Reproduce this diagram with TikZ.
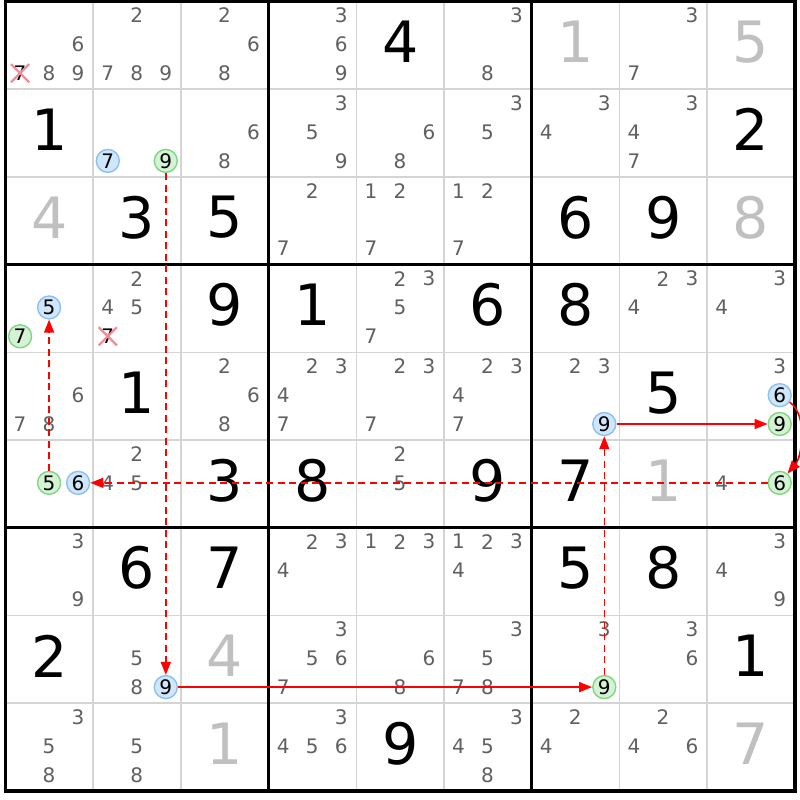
\documentclass[tikz,border=0pt]{standalone}
\usepackage{fontspec}
\setmainfont{DejaVu Sans}
\usetikzlibrary{arrows.meta,shapes.misc}
\definecolor{candgray}{RGB}{96,96,96}
\definecolor{solvedgray}{RGB}{192,192,192}
\definecolor{thingrid}{RGB}{212,212,212}
\definecolor{bluefill}{RGB}{208,230,250}
\definecolor{blueline}{RGB}{140,192,240}
\definecolor{greenfill}{RGB}{212,242,212}
\definecolor{greenline}{RGB}{128,214,128}
\definecolor{xpink}{RGB}{240,140,150}
\definecolor{linkred}{RGB}{255,0,0}
\newcommand\sdkCand[4][candtxt]{%
  \pgfmathsetmacro\sdkcx{5.5+87.7*(#3-1)+14.6+29*mod(#4-1,3)}%
  \pgfmathsetmacro\sdkcy{1.5+87.7*(#2-1)+14+28.85*div(#4-1,3)}%
  \node[#1] (n#2#3#4) at (\sdkcx,\sdkcy) {#4};}
\newcommand\sdkBig[4][given]{%
  \pgfmathsetmacro\sdkcx{5.5+87.7*(#3-1)+43.85}%
  \pgfmathsetmacro\sdkcy{1.5+87.7*(#2-1)+40.5}%
  \node[#1] (b#2#3) at (\sdkcx,\sdkcy) {#4};}
\tikzset{
  candfont/.style={font=\fontsize{20}{20}\selectfont},
  candtxt/.style={candfont, text=candgray, inner sep=0pt},
  bluec/.style={candfont, circle, draw=blueline, fill=bluefill, line width=1.4pt, minimum size=23pt, inner sep=0pt, text=black},
  greenc/.style={candfont, circle, draw=greenline, fill=greenfill, line width=1.4pt, minimum size=23pt, inner sep=0pt, text=black},
  crossed/.style={candfont, cross out, draw=xpink, line width=2.2pt, minimum width=16pt, minimum height=16pt, inner sep=0pt, text=black},
  given/.style={font=\fontsize{57}{57}\selectfont, text=black, inner sep=0pt},
  solved/.style={font=\fontsize{57}{57}\selectfont, text=solvedgray, inner sep=0pt},
  thingridline/.style={draw=thingrid, line width=1.6pt},
  thickgridline/.style={draw=black, line width=3.5pt},
  weaklink/.style={color=linkred, line width=1.4pt, dash pattern=on 7pt off 4.5pt, -{Triangle[length=13pt,width=10pt]}},
  stronglink/.style={color=linkred, line width=1.6pt, -{Triangle[length=13pt,width=10pt]}}
}
\begin{document}
\begin{tikzpicture}[x=1pt,y=-1pt]
\useasboundingbox (0,0) rectangle (800,800);
\fill[white] (0,0) rectangle (800,800);
% grid
\foreach \i in {1,2,4,5,7,8} {
  \draw[thingridline] (5.5+87.7*\i,1.5) -- (5.5+87.7*\i,790.8);
  \draw[thingridline] (5.5,1.5+87.7*\i) -- (794.8,1.5+87.7*\i);
}
\foreach \i in {3,6} {
  \draw[thickgridline] (5.5+87.7*\i,1.5) -- (5.5+87.7*\i,790.8);
  \draw[thickgridline] (5.5,1.5+87.7*\i) -- (794.8,1.5+87.7*\i);
}
\draw[thickgridline] (5.5,1.5) rectangle (794.8,790.8);
% row 1
\sdkCand{1}{1}{6}\sdkCand[crossed]{1}{1}{7}\sdkCand{1}{1}{8}\sdkCand{1}{1}{9}
\sdkCand{1}{2}{2}\sdkCand{1}{2}{7}\sdkCand{1}{2}{8}\sdkCand{1}{2}{9}
\sdkCand{1}{3}{2}\sdkCand{1}{3}{6}\sdkCand{1}{3}{8}
\sdkCand{1}{4}{3}\sdkCand{1}{4}{6}\sdkCand{1}{4}{9}
\sdkBig{1}{5}{4}
\sdkCand{1}{6}{3}\sdkCand{1}{6}{8}
\sdkBig[solved]{1}{7}{1}
\sdkCand{1}{8}{3}\sdkCand{1}{8}{7}
\sdkBig[solved]{1}{9}{5}
% row 2
\sdkBig{2}{1}{1}
\sdkCand[bluec]{2}{2}{7}\sdkCand[greenc]{2}{2}{9}
\sdkCand{2}{3}{6}\sdkCand{2}{3}{8}
\sdkCand{2}{4}{3}\sdkCand{2}{4}{5}\sdkCand{2}{4}{9}
\sdkCand{2}{5}{6}\sdkCand{2}{5}{8}
\sdkCand{2}{6}{3}\sdkCand{2}{6}{5}
\sdkCand{2}{7}{3}\sdkCand{2}{7}{4}
\sdkCand{2}{8}{3}\sdkCand{2}{8}{4}\sdkCand{2}{8}{7}
\sdkBig{2}{9}{2}
% row 3
\sdkBig[solved]{3}{1}{4}\sdkBig{3}{2}{3}\sdkBig{3}{3}{5}
\sdkCand{3}{4}{2}\sdkCand{3}{4}{7}
\sdkCand{3}{5}{1}\sdkCand{3}{5}{2}\sdkCand{3}{5}{7}
\sdkCand{3}{6}{1}\sdkCand{3}{6}{2}\sdkCand{3}{6}{7}
\sdkBig{3}{7}{6}\sdkBig{3}{8}{9}\sdkBig[solved]{3}{9}{8}
% row 4
\sdkCand[bluec]{4}{1}{5}\sdkCand[greenc]{4}{1}{7}
\sdkCand{4}{2}{2}\sdkCand{4}{2}{4}\sdkCand{4}{2}{5}\sdkCand[crossed]{4}{2}{7}
\sdkBig{4}{3}{9}\sdkBig{4}{4}{1}
\sdkCand{4}{5}{2}\sdkCand{4}{5}{3}\sdkCand{4}{5}{5}\sdkCand{4}{5}{7}
\sdkBig{4}{6}{6}\sdkBig{4}{7}{8}
\sdkCand{4}{8}{2}\sdkCand{4}{8}{3}\sdkCand{4}{8}{4}
\sdkCand{4}{9}{3}\sdkCand{4}{9}{4}
% row 5
\sdkCand{5}{1}{6}\sdkCand{5}{1}{7}\sdkCand{5}{1}{8}
\sdkBig{5}{2}{1}
\sdkCand{5}{3}{2}\sdkCand{5}{3}{6}\sdkCand{5}{3}{8}
\sdkCand{5}{4}{2}\sdkCand{5}{4}{3}\sdkCand{5}{4}{4}\sdkCand{5}{4}{7}
\sdkCand{5}{5}{2}\sdkCand{5}{5}{3}\sdkCand{5}{5}{7}
\sdkCand{5}{6}{2}\sdkCand{5}{6}{3}\sdkCand{5}{6}{4}\sdkCand{5}{6}{7}
\sdkCand{5}{7}{2}\sdkCand{5}{7}{3}\sdkCand[bluec]{5}{7}{9}
\sdkBig{5}{8}{5}
\sdkCand{5}{9}{3}\sdkCand[bluec]{5}{9}{6}\sdkCand[greenc]{5}{9}{9}
% row 6
\sdkCand[greenc]{6}{1}{5}\sdkCand[bluec]{6}{1}{6}
\sdkCand{6}{2}{2}\sdkCand{6}{2}{4}\sdkCand{6}{2}{5}
\sdkBig{6}{3}{3}\sdkBig{6}{4}{8}
\sdkCand{6}{5}{2}\sdkCand{6}{5}{5}
\sdkBig{6}{6}{9}\sdkBig{6}{7}{7}\sdkBig[solved]{6}{8}{1}
\sdkCand{6}{9}{4}\sdkCand[greenc]{6}{9}{6}
% row 7
\sdkCand{7}{1}{3}\sdkCand{7}{1}{9}
\sdkBig{7}{2}{6}\sdkBig{7}{3}{7}
\sdkCand{7}{4}{2}\sdkCand{7}{4}{3}\sdkCand{7}{4}{4}
\sdkCand{7}{5}{1}\sdkCand{7}{5}{2}\sdkCand{7}{5}{3}
\sdkCand{7}{6}{1}\sdkCand{7}{6}{2}\sdkCand{7}{6}{3}\sdkCand{7}{6}{4}
\sdkBig{7}{7}{5}\sdkBig{7}{8}{8}
\sdkCand{7}{9}{3}\sdkCand{7}{9}{4}\sdkCand{7}{9}{9}
% row 8
\sdkBig{8}{1}{2}
\sdkCand{8}{2}{5}\sdkCand{8}{2}{8}\sdkCand[bluec]{8}{2}{9}
\sdkBig[solved]{8}{3}{4}
\sdkCand{8}{4}{3}\sdkCand{8}{4}{5}\sdkCand{8}{4}{6}\sdkCand{8}{4}{7}
\sdkCand{8}{5}{6}\sdkCand{8}{5}{8}
\sdkCand{8}{6}{3}\sdkCand{8}{6}{5}\sdkCand{8}{6}{7}\sdkCand{8}{6}{8}
\sdkCand{8}{7}{3}\sdkCand[greenc]{8}{7}{9}
\sdkCand{8}{8}{3}\sdkCand{8}{8}{6}
\sdkBig{8}{9}{1}
% row 9
\sdkCand{9}{1}{3}\sdkCand{9}{1}{5}\sdkCand{9}{1}{8}
\sdkCand{9}{2}{5}\sdkCand{9}{2}{8}
\sdkBig[solved]{9}{3}{1}
\sdkCand{9}{4}{3}\sdkCand{9}{4}{4}\sdkCand{9}{4}{5}\sdkCand{9}{4}{6}
\sdkBig{9}{5}{9}
\sdkCand{9}{6}{3}\sdkCand{9}{6}{4}\sdkCand{9}{6}{5}\sdkCand{9}{6}{8}
\sdkCand{9}{7}{2}\sdkCand{9}{7}{4}
\sdkCand{9}{8}{2}\sdkCand{9}{8}{4}\sdkCand{9}{8}{6}
\sdkBig[solved]{9}{9}{7}
% chain
\begin{scope}[color=linkred]
\draw[weaklink] (n615) -- (n415);
\draw[weaklink] (n696) -- (n616);
\draw[stronglink] (n596) to[out=-35,in=50,looseness=0.8] (n696);
\draw[stronglink] (n579) -- (n599);
\draw[weaklink] (n879) -- (n579);
\draw[stronglink] (n829) -- (n879);
\draw[weaklink] (n229) -- (n829);
\end{scope}
\end{tikzpicture}
\end{document}
